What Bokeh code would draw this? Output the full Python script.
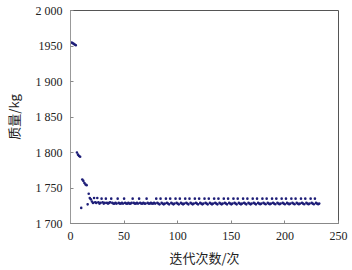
from bokeh.plotting import figure
from bokeh.models import FixedTicker, Range1d
from bokeh.embed import file_html
from bokeh.resources import INLINE

iterations = list(range(1, 233))
mass = [
    1955, 1954, 1953, 1952, 1951, 1800, 1797, 1795, 1794, 1722,
    1762, 1760, 1757, 1755, 1754, 1727, 1742, 1736, 1734, 1731,
    1729, 1736, 1730, 1729, 1736, 1730, 1728, 1729, 1735, 1730,
    1728, 1729, 1735, 1729, 1728, 1729, 1730, 1735, 1729, 1728,
    1728, 1729, 1728, 1735, 1729, 1728, 1728, 1729, 1728, 1735,
    1729, 1728, 1728, 1729, 1728, 1728, 1729, 1735, 1729, 1728,
    1728, 1729, 1728, 1735, 1729, 1728, 1728, 1729, 1728, 1728,
    1735, 1729, 1728, 1728, 1729, 1728, 1728, 1729, 1728, 1735,
    1729, 1728, 1727, 1735, 1729, 1728, 1727, 1728, 1735, 1729,
    1728, 1727, 1735, 1729, 1728, 1727, 1728, 1735, 1729, 1728,
    1727, 1735, 1729, 1728, 1727, 1728, 1735, 1729, 1728, 1727,
    1735, 1729, 1728, 1727, 1728, 1735, 1729, 1728, 1727, 1735,
    1729, 1728, 1727, 1728, 1735, 1729, 1728, 1727, 1735, 1729,
    1728, 1727, 1728, 1735, 1729, 1728, 1727, 1735, 1729, 1728,
    1727, 1728, 1735, 1729, 1728, 1727, 1735, 1729, 1728, 1727,
    1728, 1735, 1729, 1728, 1727, 1735, 1729, 1728, 1727, 1728,
    1735, 1729, 1728, 1727, 1735, 1729, 1728, 1727, 1728, 1735,
    1729, 1728, 1727, 1735, 1729, 1728, 1727, 1728, 1735, 1729,
    1728, 1727, 1735, 1729, 1728, 1727, 1728, 1735, 1729, 1728,
    1727, 1735, 1729, 1728, 1727, 1728, 1735, 1729, 1728, 1727,
    1735, 1729, 1728, 1727, 1728, 1735, 1729, 1728, 1727, 1735,
    1729, 1728, 1727, 1728, 1735, 1729, 1728, 1727, 1735, 1729,
    1728, 1727, 1728, 1735, 1729, 1728, 1727, 1735, 1729, 1728,
    1727, 1728,
]

x_ticks = [0, 50, 100, 150, 200, 250]
y_ticks = [1700, 1750, 1800, 1850, 1900, 1950, 2000]
y_tick_labels = ["1 700", "1 750", "1 800", "1 850", "1 900", "1950", "2 000"]
x_label = "迭代次数/次"
y_label = "质量/kg"

p = figure(width=352, height=270, output_backend="svg", toolbar_location=None,
           x_range=Range1d(0, 250), y_range=Range1d(1700, 2000),
           min_border_left=66, min_border_right=14, min_border_top=10,
           min_border_bottom=47)
p.grid.visible = False
p.outline_line_color = "#555555"
p.background_fill_color = "white"
p.border_fill_color = "white"

p.scatter(iterations, mass, size=2.6, color="#1e1e78", line_color=None)

serif = "Liberation Serif"
cjk = "Noto Sans CJK SC"

xa = p.xaxis[0]
xa.ticker = FixedTicker(ticks=x_ticks)
xa.major_tick_in = 3
xa.major_tick_out = 0
xa.minor_tick_line_color = None
xa.axis_line_color = "#888888"
xa.major_tick_line_color = "#888888"
xa.major_label_text_font = serif
xa.major_label_text_font_size = "12px"
xa.major_label_text_color = "#222222"
xa.major_label_standoff = 8
xa.axis_label = x_label
xa.axis_label_text_font = cjk
xa.axis_label_text_font_size = "13px"
xa.axis_label_text_font_style = "normal"
xa.axis_label_text_color = "#222222"
xa.axis_label_standoff = 5

ya = p.yaxis[0]
ya.ticker = FixedTicker(ticks=y_ticks)
ya.major_label_overrides = {t: l for t, l in zip(y_ticks, y_tick_labels)}
ya.major_tick_in = 3
ya.major_tick_out = 0
ya.minor_tick_line_color = None
ya.axis_line_color = "#999999"
ya.major_tick_line_color = "#888888"
ya.major_label_text_font = serif
ya.major_label_text_font_size = "12px"
ya.major_label_text_color = "#222222"
ya.major_label_standoff = 8
ya.axis_label = y_label
ya.axis_label_text_font = cjk
ya.axis_label_text_font_size = "13px"
ya.axis_label_text_font_style = "normal"
ya.axis_label_text_color = "#222222"
ya.axis_label_standoff = 10

open("out.html", "w").write(file_html(p, INLINE))
